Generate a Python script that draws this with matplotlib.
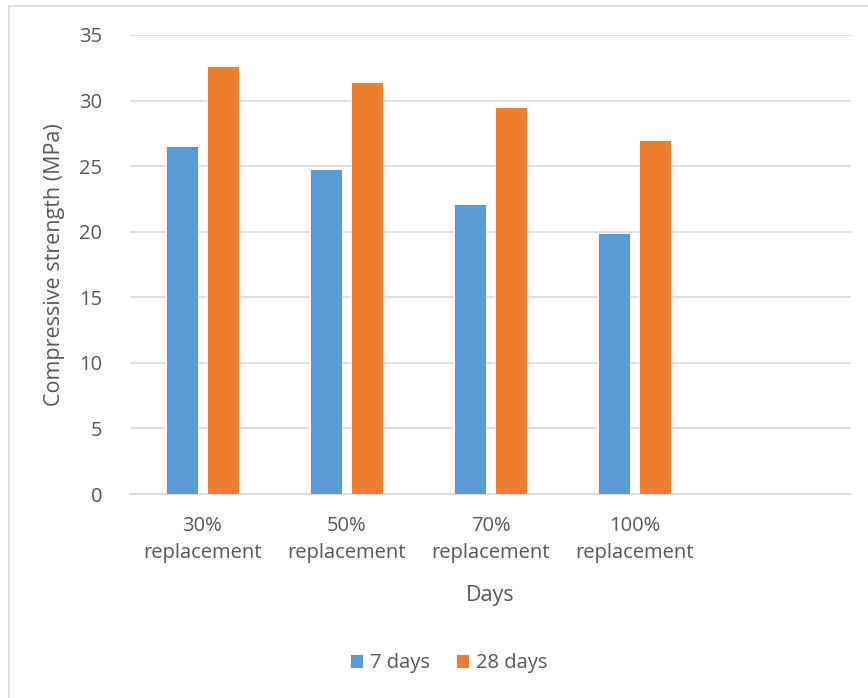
import numpy as np
import matplotlib.pyplot as plt
from matplotlib.patches import Rectangle

plt.rcParams['font.family'] = ['Open Sans', 'DejaVu Sans']

categories = ['30%\nreplacement', '50%\nreplacement', '70%\nreplacement', '100%\nreplacement']
days7 = [26.55, 24.75, 22.1, 19.9]
days28 = [32.6, 31.45, 29.5, 27.0]

blue = '#5B9BD5'
orange = '#ED7D31'
grey_text = '#595959'
grid_col = '#d9d9d9'

fig = plt.figure(figsize=(8.68, 6.98), dpi=100)
ax = fig.add_axes([130/868, 1 - 494/698, 721/868, 459/698])

# chart-area border
fig.patches.append(Rectangle((9/868, -0.1), 1.2, 1 - 6/698 + 0.1,
                             transform=fig.transFigure, fill=False,
                             edgecolor=grid_col, lw=1.2))

x = np.arange(len(categories))
w = 0.222
off = 0.142
ax.bar(x - off, days7, w, color=blue, edgecolor='white', lw=0.6, label='7 days', zorder=3)
ax.bar(x + off, days28, w, color=orange, edgecolor='white', lw=0.6, label='28 days', zorder=3)

ax.set_xlim(-0.5, 4.5)
ax.set_ylim(0, 35)
ax.set_yticks(range(0, 36, 5))
ax.set_xticks(x)
ax.set_xticklabels(categories, linespacing=1.45)
ax.tick_params(axis='both', length=0, labelsize=14.5, colors=grey_text)
ax.tick_params(axis='y', pad=20)
ax.tick_params(axis='x', pad=16)

ax.grid(axis='y', color=grid_col, lw=1.2, zorder=0)
for s in ['top', 'right', 'left']:
    ax.spines[s].set_visible(False)
ax.spines['bottom'].set_color(grid_col)
ax.spines['bottom'].set_linewidth(1.2)

ax.set_ylabel('Compressive strength (MPa)', fontsize=15.5, color=grey_text, labelpad=10)
ax.set_xlabel('Days', fontsize=15.5, color=grey_text, labelpad=16)

fig.legend(loc='center', bbox_to_anchor=(449/868, 1 - 663/698), ncol=2, frameon=False,
           fontsize=14.5, labelcolor=grey_text, handlelength=0.65, handleheight=0.65,
           handletextpad=0.35, columnspacing=1.3)

fig.savefig('out.png', dpi=100)
